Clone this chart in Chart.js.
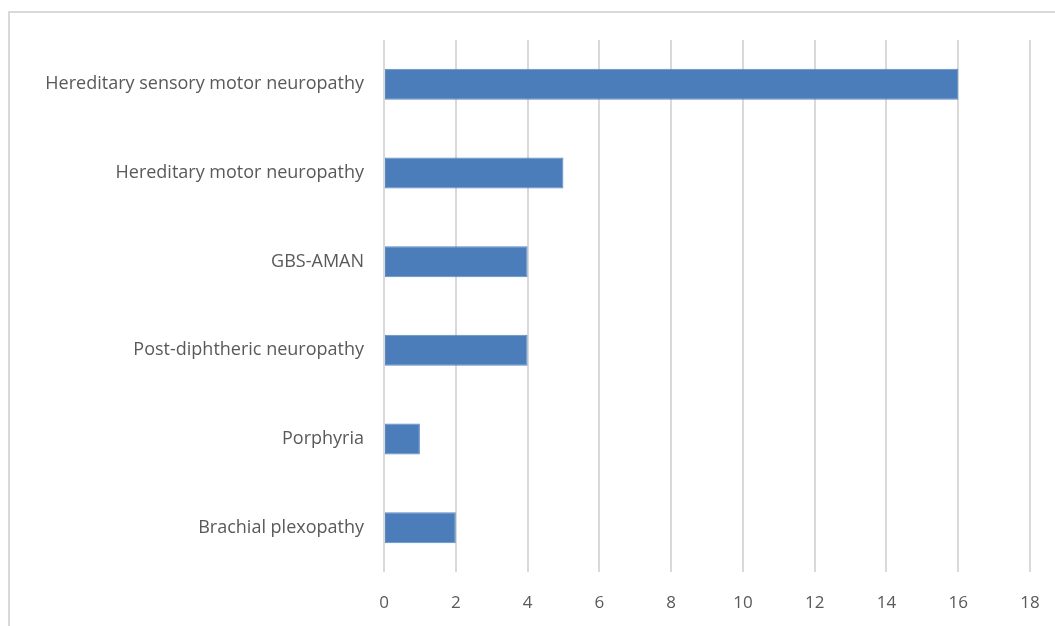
<!DOCTYPE html>
<html>
<head>
<meta charset="utf-8">
<script src="https://cdn.jsdelivr.net/npm/chart.js@4/dist/chart.umd.min.js"></script>
<style>
    html, body { margin: 0; padding: 0; background: #fff; overflow: hidden; }
    #frame {
        position: absolute;
        left: 8px;
        top: 11px;
        width: 1045px;
        height: 613px;
        border-left: 2px solid #d9d9d9;
        border-top: 2px solid #d9d9d9;
    }
    #wrap { position: absolute; left: 0; top: 0; width: 1055px; height: 626px; }
</style>
</head>
<body>
<div id="frame"></div>
<div id="wrap"><canvas id="grafico"></canvas></div>
<script>
// Categorias e valores (número de pacientes)
const categorias = [
    'Hereditary sensory motor neuropathy',
    'Hereditary motor neuropathy',
    'GBS-AMAN',
    'Post-diphtheric neuropathy',
    'Porphyria',
    'Brachial plexopathy'
];
const valores = [16, 5, 4, 4, 1, 2];
const eixoMin = 0;
const eixoMax = 18;
const eixoPasso = 2;

const ctx = document.getElementById('grafico').getContext('2d');

new Chart(ctx, {
    type: 'bar',
    data: {
        labels: categorias,
        datasets: [{
            data: valores,
            backgroundColor: '#4a7dba',
            borderColor: '#5b8ac4',
            borderWidth: 1,
            borderSkipped: false,
            categoryPercentage: 1,
            barPercentage: 0.35
        }]
    },
    options: {
        indexAxis: 'y',
        responsive: true,
        maintainAspectRatio: false,
        animation: false,
        layout: {
            padding: { top: 40, right: 25, bottom: 0, left: 0 }
        },
        plugins: {
            legend: { display: false },
            tooltip: { enabled: false }
        },
        scales: {
            x: {
                min: eixoMin,
                max: eixoMax,
                ticks: {
                    stepSize: eixoPasso,
                    color: '#595959',
                    font: { family: 'Open Sans', size: 17 },
                    padding: 21
                },
                grid: {
                    color: '#d9d9d9',
                    lineWidth: 2,
                    drawTicks: false
                },
                border: { display: false },
                afterFit: (scale) => {
                    scale.height = 54;
                    // o padding dos ticks não deve encolher a área do gráfico
                    scale.paddingLeft = 0;
                    scale.paddingRight = 0;
                }
            },
            y: {
                ticks: {
                    color: '#595959',
                    font: { family: 'Open Sans', size: 18 },
                    padding: 12
                },
                grid: { display: false },
                border: { display: false },
                afterFit: (scale) => { scale.width = 384; }
            }
        }
    }
});
</script>
</body>
</html>
